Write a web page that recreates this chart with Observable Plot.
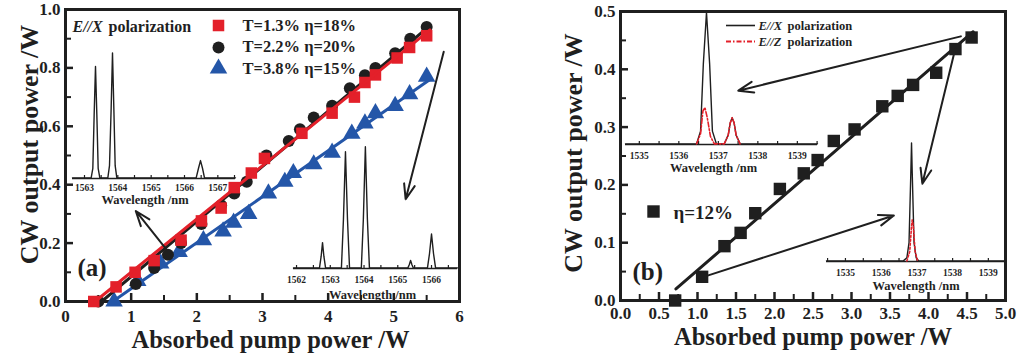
<!DOCTYPE html>
<html><head><meta charset="utf-8">
<script src="https://cdn.jsdelivr.net/npm/d3@7"></script>
<script src="https://cdn.jsdelivr.net/npm/@observablehq/plot@0.6"></script>
<style>
body{margin:0;background:#fff;}
#root{position:relative;width:1027px;height:357px;overflow:hidden;font-family:"Liberation Serif",serif;}
#root > svg{position:absolute;}
</style></head><body><div id="root"></div>
<script>
// ---------- Panel (a) data ----------
const redX   = [0.43,0.77,1.06,1.35,1.76,2.07,2.37,2.57,2.83,3.03,3.6,4.06,4.4,4.56,4.72,5.05,5.24,5.5];
const redY   = [0.0,0.05,0.10,0.14,0.21,0.276,0.32,0.39,0.44,0.49,0.576,0.645,0.70,0.75,0.776,0.834,0.87,0.91];
const blackX = [0.5,1.07,1.35,1.56,1.76,2.07,2.37,2.57,2.76,3.06,3.4,3.57,3.78,4.06,4.33,4.56,4.72,5.02,5.25,5.5];
const blackY = [0.0,0.06,0.115,0.16,0.20,0.265,0.33,0.37,0.41,0.50,0.55,0.59,0.63,0.67,0.73,0.775,0.80,0.85,0.90,0.94];
const blueX  = [0.74,1.1,1.45,1.73,2.1,2.4,2.56,2.79,3.09,3.34,3.47,3.78,4.06,4.36,4.56,4.72,5.02,5.24,5.5];
const blueY  = [0.0,0.07,0.13,0.17,0.21,0.24,0.27,0.30,0.37,0.41,0.44,0.47,0.51,0.575,0.61,0.645,0.67,0.71,0.77];
const redFitX = [0.45,5.55],  redFitY = [0.0,0.93];
const blackFitX = [0.55,5.55], blackFitY = [0.0,0.945];
const blueFitX = [0.72,5.55], blueFitY = [0.0,0.76];
const legendA = ["T=1.3% η=18%","T=2.2% η=20%","T=3.8% η=15%"];
const xTicksA = [0,1,2,3,4,5,6];
const yTicksA = [0,0.2,0.4,0.6,0.8,1.0];
const xMinorA = [0.5,1.5,2.5,3.5,4.5,5.5];
const yMinorA = [0.1,0.3,0.5,0.7,0.9];
const arrowsA = [{x1:1.53,y1:0.18,x2:1.07,y2:0.31},{x1:5.76,y1:0.855,x2:5.18,y2:0.35}];

// inset a1 spectrum
const specA1W = [1562.64,1563.2,1563.25,1563.29,1563.33,1563.37,1563.41,1563.46,1563.7,1563.75,1563.8,1563.84,1563.88,1563.92,1563.97,1566.35,1566.42,1566.48,1566.54,1566.6,1567.53];
const specA1I = [0.005,0.005,0.08,0.5,0.875,0.5,0.08,0.005,0.005,0.1,0.55,0.98,0.55,0.1,0.005,0.005,0.08,0.14,0.08,0.005,0.005];
const ticksA1 = [1563,1564,1565,1566,1567];
// inset a2 spectrum
const specA2W = [1561.91,1562.68,1562.73,1562.77,1562.81,1562.86,1563.33,1563.39,1563.45,1563.51,1563.57,1563.92,1563.98,1564.04,1564.1,1564.16,1565.3,1565.34,1565.38,1565.42,1565.46,1565.88,1565.94,1566.0,1566.06,1566.12,1566.77];
const specA2I = [0.005,0.005,0.1,0.21,0.1,0.005,0.005,0.4,0.95,0.4,0.005,0.005,0.4,0.99,0.4,0.005,0.005,0.03,0.065,0.03,0.005,0.005,0.12,0.28,0.12,0.005,0.005];
const ticksA2 = [1562,1563,1564,1565,1566];

// ---------- Panel (b) data ----------
const bX = [0.71,1.06,1.35,1.56,1.75,2.07,2.38,2.56,2.77,3.04,3.4,3.6,3.8,4.1,4.35,4.56];
const bY = [0.0,0.041,0.094,0.117,0.151,0.193,0.22,0.243,0.276,0.296,0.336,0.354,0.373,0.394,0.435,0.455];
const bFitX = [0.72,4.58], bFitY = [0.02,0.465];
const legendB = "η=12%";
const xTicksB = [0,0.5,1,1.5,2,2.5,3,3.5,4,4.5,5];
const yTicksB = [0,0.1,0.2,0.3,0.4,0.5];
const xMinorB = [0.25,0.75,1.25,1.75,2.25,2.75,3.25,3.75,4.25,4.75];
const yMinorB = [0.05,0.15,0.25,0.35,0.45];
const arrowsB = [{x1:4.42,y1:0.457,x2:1.53,y2:0.363},{x1:4.35,y1:0.437,x2:3.92,y2:0.202},{x1:1.13,y1:0.043,x2:3.55,y2:0.147}];

// inset b1 spectra (E//X black, E//Z red)
const specB1W  = [1534.65,1536.45,1536.55,1536.62,1536.7,1536.78,1536.85,1536.95,1537.15,1537.25,1537.3,1537.35,1537.4,1537.45,1537.55,1539.51];
const specB1I  = [0.005,0.005,0.1,0.6,0.985,0.6,0.1,0.005,0.005,0.07,0.16,0.2,0.16,0.07,0.005,0.005];
const specB1RW = [1536.45,1536.55,1536.61,1536.66,1536.72,1536.8,1536.9,1537.15,1537.25,1537.3,1537.35,1537.4,1537.45,1537.55];
const specB1RI = [0.005,0.08,0.25,0.276,0.2,0.06,0.005,0.005,0.07,0.16,0.2,0.16,0.07,0.005];
const ticksB = [1535,1536,1537,1538,1539];
const legendB1 = ["E//X", "E//Z"];
// inset b2 spectra
const specB2W  = [1534.47,1536.62,1536.72,1536.78,1536.83,1536.85,1536.87,1536.92,1536.98,1537.05,1539.48];
const specB2I  = [0.005,0.005,0.03,0.15,0.7,0.94,0.7,0.15,0.03,0.005,0.005];
const specB2RW = [1536.72,1536.8,1536.85,1536.87,1536.9,1536.95,1537.02];
const specB2RI = [0.005,0.08,0.28,0.33,0.28,0.08,0.005];

// ---------- styling ----------
const FONT = "Liberation Serif";
const INK = "#1f1f1f";
const RED = "#e3202a";
const BLUE = "#2456a8";
const DASHDOT = "5,2,1.5,2";
const root = document.getElementById("root");
const zip = (xs, ys) => xs.map((x, i) => ({x, y: ys[i]}));
const baseStyle = {fontFamily: FONT, fontWeight: "bold", background: "transparent", overflow: "visible", color: INK};

function place(el, left, top) { el.style.left = left + "px"; el.style.top = top + "px"; root.appendChild(el); }

function axesMarks(o) {
  const pw = o.W - o.mL - o.mR, ph = o.H - o.mT - o.mB;
  const ys = (o.yDom[1] - o.yDom[0]) / ph, xs = (o.xDom[1] - o.xDom[0]) / pw;
  const y0 = o.yDom[0], x0 = o.xDom[0];
  return [
    Plot.ruleX(o.xMajor, {x: d => d, y1: y0, y2: y0 + 8 * ys, stroke: INK, strokeWidth: 2.5}),
    Plot.ruleX(o.xMinor, {x: d => d, y1: y0, y2: y0 + 6 * ys, stroke: INK, strokeWidth: 2}),
    Plot.ruleY(o.yMajor, {y: d => d, x1: x0, x2: x0 + 8 * xs, stroke: INK, strokeWidth: 2.5}),
    Plot.ruleY(o.yMinor, {y: d => d, x1: x0, x2: x0 + 6 * xs, stroke: INK, strokeWidth: 2}),
    Plot.text(o.xMajor, {x: d => d, frameAnchor: "bottom", dy: o.xLabDy, lineAnchor: "middle", text: o.xFmt, fontSize: 17, fill: INK}),
    Plot.text(o.yMajor, {y: d => d, frameAnchor: "left", dx: -5, textAnchor: "end", lineAnchor: "middle", text: d => d.toFixed(1), fontSize: 17, fill: INK}),
    Plot.text(["Absorbed pump power /W"], {frameAnchor: "bottom", dy: o.xTitleDy, dx: o.xTitleDx, lineAnchor: "middle", fontSize: 24.5, fill: INK}),
    Plot.text(["CW output power /W"], {frameAnchor: "left", dx: o.yTitleDx, dy: o.yTitleDy, rotate: -90, textAnchor: "middle", lineAnchor: "middle", fontSize: 26, fill: INK}),
    Plot.frame({stroke: INK, strokeWidth: 3})
  ];
}

function inset(cfg) {
  const mT = 5, mB = 40;
  const lines = cfg.series.map(s => Plot.line(zip(s.w, s.i), {x: "x", y: "y", stroke: s.color, strokeWidth: s.width || 1.4, strokeDasharray: s.dash}));
  const tks = d3.range(Math.ceil(cfg.domain[0] * 2) / 2, cfg.domain[1], 0.5);
  const svg = Plot.plot({
    width: cfg.width, height: mT + cfg.ph + mB, marginLeft: 0, marginRight: 0, marginTop: mT, marginBottom: mB,
    x: {domain: cfg.domain, axis: null}, y: {domain: [0, 1], axis: null},
    style: baseStyle,
    marks: [
      Plot.ruleY([0], {stroke: INK, strokeWidth: 1.6}),
      Plot.ruleX(tks, {x: d => d, y1: 0, y2: 3 / cfg.ph, stroke: INK, strokeWidth: 1.2}),
      Plot.text(cfg.labels, {x: d => d, frameAnchor: "bottom", dy: cfg.labDy, lineAnchor: "middle", text: d => String(d), fontSize: 9.5, fill: INK}),
      Plot.text(["Wavelength /nm"], {frameAnchor: "bottom", dy: cfg.titleDy, dx: cfg.titleDx, lineAnchor: "middle", fontSize: 12.5, fill: INK}),
      ...lines,
      ...(cfg.extra || [])
    ]
  });
  place(svg, cfg.left, cfg.top);
}

// ---------- Panel (a) ----------
{
  const o = {W: 520, H: 357, mL: 65, mR: 61, mT: 9, mB: 56, xDom: [0, 6], yDom: [0, 1],
    xMajor: xTicksA, xMinor: xMinorA, yMajor: yTicksA, yMinor: yMinorA,
    xFmt: d => String(d), xLabDy: 15, xTitleDy: 39, xTitleDx: 8, yTitleDx: -36, yTitleDy: -11};
  const svg = Plot.plot({
    width: o.W, height: o.H, marginLeft: o.mL, marginRight: o.mR, marginTop: o.mT, marginBottom: o.mB,
    x: {domain: o.xDom, axis: null}, y: {domain: o.yDom, axis: null},
    style: baseStyle,
    marks: [
      ...axesMarks(o),
      Plot.line(zip(blueFitX, blueFitY), {x: "x", y: "y", stroke: BLUE, strokeWidth: 3}),
      Plot.dot(zip(blueX, blueY), {x: "x", y: "y", symbol: "triangle", r: 6.5, fill: BLUE}),
      Plot.line(zip(blackFitX, blackFitY), {x: "x", y: "y", stroke: INK, strokeWidth: 3}),
      Plot.dot(zip(blackX, blackY), {x: "x", y: "y", symbol: "circle", r: 6, fill: INK}),
      Plot.dot(zip(redX, redY), {x: "x", y: "y", symbol: "square", r: 6.5, fill: RED}),
      Plot.line(zip(redFitX, redFitY), {x: "x", y: "y", stroke: RED, strokeWidth: 3}),
      Plot.arrow(arrowsA, {x1: "x1", y1: "y1", x2: "x2", y2: "y2", stroke: INK, strokeWidth: 2, headLength: 12, headAngle: 40}),
      // legend
      Plot.text(["E//X"], {frameAnchor: "top-left", dx: 7, dy: 17, textAnchor: "start", lineAnchor: "middle", fontStyle: "italic", fontSize: 16, fill: INK}),
      Plot.text(["polarization"], {frameAnchor: "top-left", dx: 43, dy: 17, textAnchor: "start", lineAnchor: "middle", fontSize: 16, fill: INK}),
      Plot.dot([0], {frameAnchor: "top-left", dx: 153, dy: 16, symbol: "square", r: 6.5, fill: RED}),
      Plot.dot([0], {frameAnchor: "top-left", dx: 153, dy: 38, symbol: "circle", r: 6, fill: INK}),
      Plot.dot([0], {frameAnchor: "top-left", dx: 153, dy: 59, symbol: "triangle", r: 6.5, fill: BLUE}),
      ...legendA.map((t, i) => Plot.text([t], {frameAnchor: "top-left", dx: 177, dy: 16 + i * 21.5, textAnchor: "start", lineAnchor: "middle", fontSize: 16.5, fill: INK})),
      Plot.text(["(a)"], {frameAnchor: "top-left", dx: 12, dy: 258, textAnchor: "start", lineAnchor: "middle", fontSize: 25, fill: INK})
    ]
  });
  place(svg, 0, 0);
}

// ---------- Panel (b) ----------
{
  const o = {W: 507, H: 357, mL: 100, mR: 22, mT: 11, mB: 57, xDom: [0, 5], yDom: [0, 0.5],
    xMajor: xTicksB, xMinor: xMinorB, yMajor: yTicksB, yMinor: yMinorB,
    xFmt: d => d.toFixed(1), xLabDy: 13, xTitleDy: 37, xTitleDx: 0, yTitleDx: -47, yTitleDy: -3};
  const svg = Plot.plot({
    width: o.W, height: o.H, marginLeft: o.mL, marginRight: o.mR, marginTop: o.mT, marginBottom: o.mB,
    x: {domain: o.xDom, axis: null}, y: {domain: o.yDom, axis: null},
    style: baseStyle,
    marks: [
      ...axesMarks(o),
      Plot.line(zip(bFitX, bFitY), {x: "x", y: "y", stroke: INK, strokeWidth: 3}),
      Plot.dot(zip(bX, bY), {x: "x", y: "y", symbol: "square", r: 7, fill: INK}),
      Plot.arrow(arrowsB, {x1: "x1", y1: "y1", x2: "x2", y2: "y2", stroke: INK, strokeWidth: 2, headLength: 12, headAngle: 40}),
      Plot.dot([0], {frameAnchor: "top-left", dx: 33, dy: 200, symbol: "square", r: 7, fill: INK}),
      Plot.text([legendB], {frameAnchor: "top-left", dx: 53, dy: 201, textAnchor: "start", lineAnchor: "middle", fontSize: 19, fill: INK}),
      Plot.text(["(b)"], {frameAnchor: "top-left", dx: 12, dy: 260, textAnchor: "start", lineAnchor: "middle", fontSize: 25, fill: INK})
    ]
  });
  place(svg, 520, 0);
}

// ---------- Insets ----------
inset({left: 72, top: 45, width: 163, ph: 128, domain: [1562.64, 1567.53],
  series: [{w: specA1W, i: specA1I, color: INK}], labels: ticksA1, labDy: 9, titleDy: 21, titleDx: -9});
inset({left: 293, top: 140, width: 164, ph: 123, domain: [1561.91, 1566.77],
  series: [{w: specA2W, i: specA2I, color: INK}], labels: ticksA2, labDy: 11, titleDy: 26, titleDx: -3});
inset({left: 625, top: 5, width: 192, ph: 134, domain: [1534.65, 1539.51],
  series: [{w: specB1W, i: specB1I, color: INK}, {w: specB1RW, i: specB1RI, color: RED, dash: DASHDOT, width: 1.6}],
  labels: ticksB, labDy: 11, titleDy: 23, titleDx: -8,
  extra: [
    Plot.ruleY([1], {dy: 15, insetLeft: 101, insetRight: 62, stroke: INK, strokeWidth: 1.6}),
    Plot.ruleY([1], {dy: 31, insetLeft: 101, insetRight: 62, stroke: RED, strokeWidth: 1.8, strokeDasharray: DASHDOT}),
    ...legendB1.map((t, i) => Plot.text([t], {frameAnchor: "top-left", dx: 133, dy: 15 + 16 * i, textAnchor: "start", lineAnchor: "middle", fontStyle: "italic", fontSize: 12.5, fill: INK})),
    ...legendB1.map((t, i) => Plot.text(["polarization"], {frameAnchor: "top-left", dx: 162, dy: 15 + 16 * i, textAnchor: "start", lineAnchor: "middle", fontSize: 12.5, fill: INK}))
  ]});
inset({left: 826, top: 130, width: 179, ph: 126, domain: [1534.47, 1539.48],
  series: [{w: specB2W, i: specB2I, color: INK}, {w: specB2RW, i: specB2RI, color: RED, dash: "2,2", width: 1.6}],
  labels: ticksB, labDy: 11, titleDy: 24, titleDx: 0});
</script>
</body></html>
